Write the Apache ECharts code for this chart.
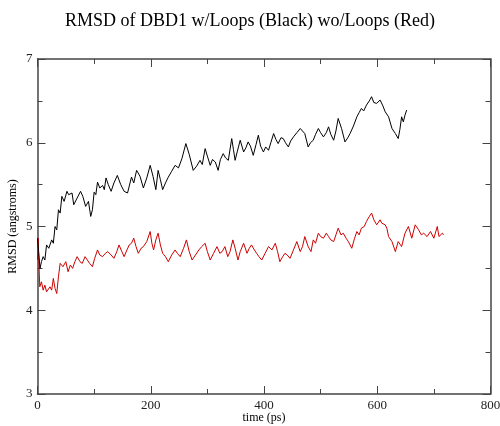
<!DOCTYPE html>
<html>
<head>
<meta charset="utf-8">
<script src="https://cdn.jsdelivr.net/npm/echarts@6/dist/echarts.min.js"></script>
<style>html,body{margin:0;padding:0;background:#fff}#c{width:500px;height:426px}</style>
</head>
<body>
<div id="c"></div>
<script>
const titleText = "RMSD of DBD1 w/Loops (Black) wo/Loops (Red)";
const xName = "time (ps)";
const yName = "RMSD (angstroms)";

// w/Loops (black): [time ps, RMSD]
const blackT = [0,2,4.4,7,10,13,16,20,25,28,31,34,37,40,43,47,52,55,58,61,64,70,76,80,85,90,94,97,100,103,106,110,115,118,121,125,130,135,141,147,153,159,166,170,175,181,187,193,199,204,209,213,217,221,226,231,237,243,249,255,262,268,275,281,287,291,296,300,305,309,314,319,323,328,332,337,343,346,349,353,358,364,368,372,376,381,386,390,394,399,403,408,412,417,421,425,430,434,438,443,447,452,458,464,468,472,478,482,487,491,496,500,505,510,514,518,523,527,531,537,543,548,552,558,564,568,572,576,581,586,590,594,599,605,610,614,620,626,632,637,640,643,646,649,652];
const blackV = [4.86,4.70,4.50,4.58,4.64,4.60,4.78,4.74,4.84,4.80,5.00,4.96,5.20,5.16,5.36,5.30,5.42,5.38,5.36,5.40,5.26,5.34,5.42,5.36,5.24,5.30,5.12,5.20,5.41,5.38,5.53,5.46,5.49,5.44,5.58,5.50,5.42,5.52,5.61,5.50,5.42,5.40,5.59,5.52,5.67,5.60,5.46,5.58,5.73,5.60,5.44,5.67,5.56,5.44,5.52,5.59,5.66,5.73,5.70,5.81,5.99,5.86,5.67,5.72,5.79,5.74,5.93,5.84,5.73,5.80,5.77,5.67,5.80,5.87,5.82,5.79,6.05,5.92,5.79,5.90,6.03,5.89,5.94,6.01,5.96,5.85,5.98,6.09,5.96,5.89,5.95,5.91,6.00,6.11,6.04,5.99,6.06,6.05,6.00,5.95,6.02,6.07,6.12,6.17,6.14,6.11,5.95,6.00,6.03,6.10,6.17,6.12,6.07,6.12,6.19,6.10,6.03,6.14,6.29,6.17,6.01,6.06,6.11,6.20,6.31,6.36,6.41,6.38,6.45,6.50,6.55,6.48,6.47,6.51,6.44,6.37,6.31,6.17,6.11,6.05,6.16,6.31,6.25,6.33,6.39];

// wo/Loops (red): [time ps, RMSD]
const redT = [0,1,4,7,10,13,16,19,22,25,28,31,34,37,40,45,50,54,58,62,66,70,75,79,84,88,92,97,101,106,110,115,120,124,130,135,140,144,149,153,158,162,166,170,174,178,183,187,193,199,202,205,209,213,217,221,226,231,237,243,247,252,258,263,268,273,279,285,290,296,300,305,311,317,322,326,331,336,340,345,349,354,358,364,370,374,378,383,387,391,396,402,408,414,420,424,428,433,437,441,446,452,458,464,468,472,478,483,487,491,496,500,505,510,514,518,523,527,531,536,540,545,549,555,560,564,568,572,577,581,586,590,594,599,605,608,614,617,620,626,632,637,643,649,655,661,667,673,678,682,688,694,700,706,709,715,717];
const redV = [4.60,4.86,4.28,4.34,4.24,4.30,4.22,4.20,4.28,4.24,4.38,4.26,4.20,4.40,4.56,4.52,4.58,4.46,4.54,4.50,4.58,4.64,4.58,4.56,4.64,4.60,4.56,4.52,4.62,4.72,4.66,4.64,4.68,4.70,4.66,4.62,4.70,4.78,4.70,4.64,4.72,4.78,4.80,4.86,4.76,4.68,4.74,4.76,4.82,4.94,4.80,4.72,4.84,4.92,4.78,4.68,4.64,4.58,4.66,4.72,4.68,4.64,4.74,4.84,4.70,4.60,4.66,4.72,4.76,4.80,4.70,4.60,4.68,4.76,4.68,4.70,4.76,4.64,4.70,4.84,4.74,4.60,4.70,4.80,4.68,4.74,4.78,4.72,4.68,4.64,4.60,4.68,4.76,4.72,4.80,4.70,4.58,4.64,4.68,4.66,4.62,4.72,4.82,4.70,4.76,4.88,4.76,4.70,4.84,4.80,4.92,4.88,4.86,4.92,4.88,4.84,4.82,4.90,4.98,4.90,4.92,4.86,4.82,4.74,4.86,4.94,4.90,4.98,5.00,5.06,5.12,5.16,5.08,5.02,5.08,5.04,5.02,4.98,4.88,4.82,4.70,4.82,4.76,4.92,5.00,4.86,5.02,4.96,4.90,4.92,4.88,4.94,4.86,5.00,4.88,4.92,4.90];

const blackData = blackT.map((t, i) => [t, blackV[i]]);
const redData = redT.map((t, i) => [t, redV[i]]);

const FONT = "'Liberation Serif', 'DejaVu Serif', serif";
const mkLine = () => ({ show: true, onZero: false, lineStyle: { color: '#444', width: 1.5 } });
const mkTick = () => ({ show: true, inside: true, length: 8, lineStyle: { color: '#444', width: 1 } });
const mkMinor = () => ({ show: true, splitNumber: 2, length: 5, lineStyle: { color: '#444', width: 1 } });

const chart = echarts.init(document.getElementById('c'), null, { renderer: 'canvas' });
chart.setOption({
  animation: false,
  backgroundColor: '#fff',
  title: {
    text: titleText,
    left: 'center',
    top: 7,
    textStyle: { fontFamily: FONT, fontSize: 18, fontWeight: 'normal', color: '#000' }
  },
  grid: { left: 37.5, right: 9.5, top: 59, bottom: 32, containLabel: false, outerBoundsMode: 'none' },
  xAxis: [
    {
      type: 'value', min: 0, max: 800, interval: 200, position: 'bottom',
      name: xName, nameLocation: 'middle', nameGap: 18, nameMoveOverlap: false,
      nameTextStyle: { fontFamily: FONT, fontSize: 12, color: '#000' },
      axisLine: mkLine(), axisTick: mkTick(), minorTick: mkMinor(),
      splitLine: { show: false },
      axisLabel: { fontFamily: FONT, fontSize: 13, color: '#222', margin: 5 }
    },
    {
      type: 'value', min: 0, max: 800, interval: 200, position: 'top',
      axisLine: mkLine(), axisTick: mkTick(), minorTick: mkMinor(),
      splitLine: { show: false }, axisLabel: { show: false }
    }
  ],
  yAxis: [
    {
      type: 'value', min: 3, max: 7, interval: 1, position: 'left',
      name: yName, nameLocation: 'middle', nameGap: 19, nameMoveOverlap: false,
      nameTextStyle: { fontFamily: FONT, fontSize: 12, color: '#000' },
      axisLine: mkLine(), axisTick: mkTick(), minorTick: mkMinor(),
      splitLine: { show: false },
      axisLabel: { fontFamily: FONT, fontSize: 13, color: '#222', margin: 5 }
    },
    {
      type: 'value', min: 3, max: 7, interval: 1, position: 'right',
      axisLine: mkLine(), axisTick: mkTick(), minorTick: mkMinor(),
      splitLine: { show: false }, axisLabel: { show: false }
    }
  ],
  series: [
    {
      name: 'w/Loops', type: 'line', data: blackData, xAxisIndex: 0, yAxisIndex: 0,
      showSymbol: false, symbol: 'none',
      lineStyle: { color: '#000', width: 1 }, z: 3
    },
    {
      name: 'wo/Loops', type: 'line', data: redData, xAxisIndex: 0, yAxisIndex: 0,
      showSymbol: false, symbol: 'none',
      lineStyle: { color: '#cc0000', width: 1 }, z: 2
    }
  ]
});
</script>
</body>
</html>
